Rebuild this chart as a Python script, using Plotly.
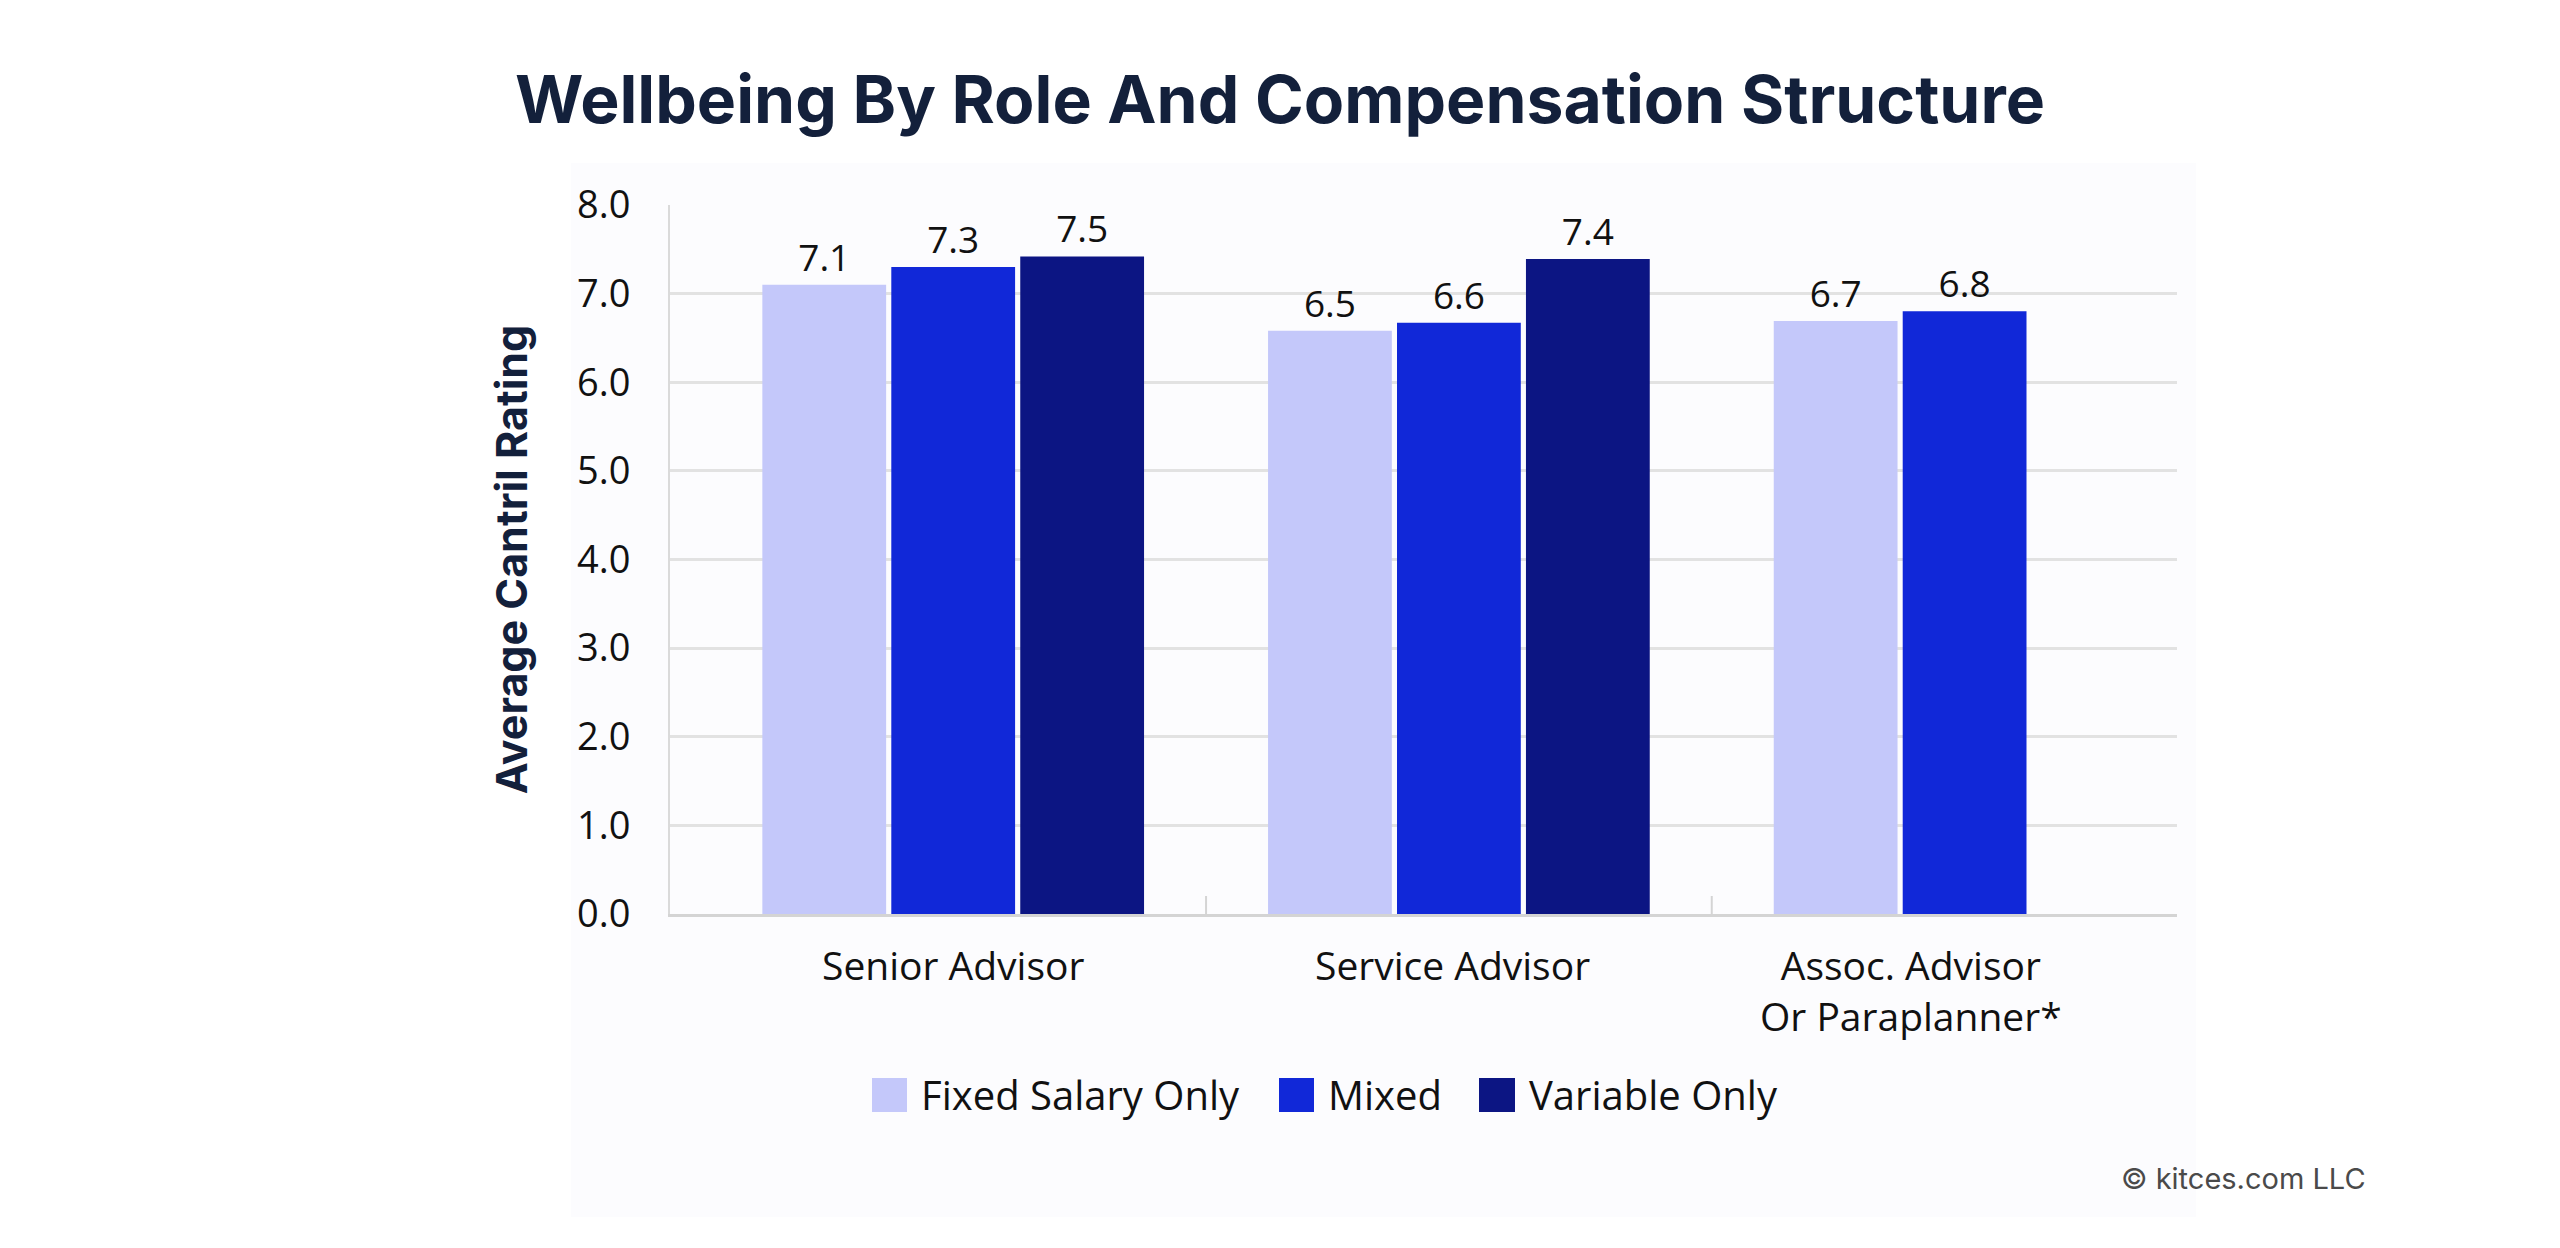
import plotly.graph_objects as go

# ---- data ----
categories = ["Senior Advisor", "Service Advisor", "Assoc. Advisor<br>Or Paraplanner*"]
series_names = ["Fixed Salary Only", "Mixed", "Variable Only"]
fixed_values = [7.10, 6.58, 6.69]
mixed_values = [7.30, 6.67, 6.80]
variable_values = [7.42, 7.39, None]
fixed_labels = ["7.1", "6.5", "6.7"]
mixed_labels = ["7.3", "6.6", "6.8"]
variable_labels = ["7.5", "7.4", ""]
y_ticks = [0, 1, 2, 3, 4, 5, 6, 7, 8]
y_ticktext = ["0.0", "1.0", "2.0", "3.0", "4.0", "5.0", "6.0", "7.0", "8.0"]

colors = ["#C4C8FA", "#1128D8", "#0C1583"]
OFF = 8  # default page body margin
W, H = 2560 - 2 * OFF, 1248 - 2 * OFF
PL, PR, PT, PB = 670, 2177, 205, 914   # plot area in page pixels
LABEL_FONT = "Open Sans"
TITLE_FONT = "Inter"


def px(x):
    return (x - PL) / (PR - PL)


def py(y):
    return (PB - y) / (PB - PT)


fig = go.Figure()
for name, vals, labs, col in zip(series_names,
                                 [fixed_values, mixed_values, variable_values],
                                 [fixed_labels, mixed_labels, variable_labels],
                                 colors):
    fig.add_trace(go.Bar(
        name=name, x=categories, y=vals, text=labs,
        textposition="outside", cliponaxis=False,
        textfont=dict(family=LABEL_FONT, size=37, color="#111111"),
        marker=dict(color=col, line=dict(width=0)),
        showlegend=False,
    ))

# category labels (annotations so the third can sit under its two bars)
cat_shift = [0, -6, -54]
for cat, sh in zip(categories, cat_shift):
    fig.add_annotation(x=cat, y=0, xref="x", yref="y", text=cat,
                       showarrow=False, yanchor="top", yshift=-22, xshift=sh,
                       font=dict(family=LABEL_FONT, size=39, color="#111111"),
                       align="center")

# tick marks at the category boundaries
for i in range(len(categories) - 1):
    fig.add_shape(type="line", xref="x", yref="y", ysizemode="pixel", yanchor=0,
                  x0=i + 0.5, x1=i + 0.5, y0=0, y1=18,
                  line=dict(color="#D4D4D4", width=2))

# manual legend
leg_boxes = [(872, 907), (1279, 1314), (1479, 1515)]
leg_text_x = [919, 1326, 1527]
for name, col, (x0, x1), tx in zip(series_names, colors, leg_boxes, leg_text_x):
    fig.add_shape(type="rect", xref="paper", yref="paper",
                  x0=px(x0), x1=px(x1), y0=py(1112), y1=py(1078),
                  fillcolor=col, line=dict(width=0))
    fig.add_annotation(x=px(tx), y=py(1094), xref="paper", yref="paper",
                       text=name, showarrow=False, xanchor="left", yanchor="middle",
                       font=dict(family=LABEL_FONT, size=40, color="#111111"))

# subtle panel background
fig.add_shape(type="rect", xref="paper", yref="paper", layer="below",
              x0=px(571), x1=px(2196), y0=py(1217), y1=py(163),
              fillcolor="#FCFCFE", line=dict(width=0))

# copyright
fig.add_annotation(x=px(2368), y=py(1178), xref="paper", yref="paper",
                   text="© kitces.com LLC", showarrow=False,
                   xanchor="right", yanchor="middle",
                   font=dict(family=TITLE_FONT, size=29, color="#4A4A4A"))

fig.update_layout(
    width=W, height=H,
    margin=dict(l=PL - OFF, r=W - (PR - OFF), t=PT - OFF, b=H - (PB - OFF),
                autoexpand=False),
    paper_bgcolor="#FFFFFF", plot_bgcolor="#FFFFFF",
    barmode="group", bargap=0.235, bargroupgap=0.04,
    title=dict(text="<b>Wellbeing By Role And Compensation Structure</b>",
               x=0.5, xanchor="center", y=1 - (100 - OFF) / H, yanchor="middle",
               font=dict(family=TITLE_FONT, size=66, color="#13203B")),
    font=dict(family=LABEL_FONT, color="#111111"),
)
fig.update_xaxes(type="category", range=[-0.56, 2.42], showticklabels=False,
                 ticks="", showline=True, linecolor="#D4D4D4",
                 linewidth=3, showgrid=False, zeroline=False)
fig.update_yaxes(range=[0, 8], tickvals=y_ticks, ticktext=y_ticktext,
                 showgrid=True, gridcolor="#E2E2E2", gridwidth=3,
                 showline=True, linecolor="#DADADA", linewidth=2,
                 zeroline=False, ticklabelstandoff=30,
                 tickfont=dict(family=LABEL_FONT, size=38, color="#111111"),
                 title=dict(text="<b>Average Cantril Rating</b>", standoff=36,
                            font=dict(family=TITLE_FONT, size=43, color="#13203B")))

fig.write_html("out.html")
